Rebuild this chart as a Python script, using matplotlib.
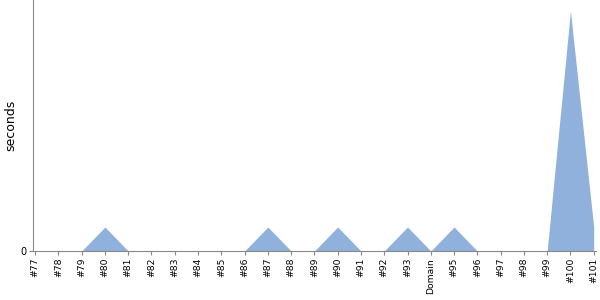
import matplotlib.pyplot as plt

labels = ['#77', '#78', '#79', '#80', '#81', '#82', '#83', '#84', '#85', '#86',
          '#87', '#88', '#89', '#90', '#91', '#92', '#93', 'Domain', '#95', '#96',
          '#97', '#98', '#99', '#100', '#101']
seconds = [0, 0, 0, 1, 0, 0, 0, 0, 0, 0,
           1, 0, 0, 1, 0, 0, 1, 0, 1, 0,
           0, 0, 0, 10, 1]

fig = plt.figure(figsize=(6, 3), dpi=100)
ax = fig.add_axes([0.055, 0.1633, 0.938, 0.8367])

x = list(range(len(labels)))
ax.fill_between(x, seconds, 0, color='#8fb1db', linewidth=0)

ax.set_xlim(-0.09, 24.09)
ax.set_ylim(0, 10.46)
ax.set_xticks(x)
ax.set_xticklabels(labels, rotation=90, fontsize=6.7)
ax.set_yticks([0])
ax.set_yticklabels(['0'], fontsize=7)
ax.set_ylabel('seconds', fontsize=9)
ax.yaxis.set_label_coords(-0.028, 0.5)

for s in ['top', 'right']:
    ax.spines[s].set_visible(False)
for s in ['left', 'bottom']:
    ax.spines[s].set_color('#888888')
ax.tick_params(colors='#888888', labelcolor='black', length=3, width=0.8, pad=2)

fig.savefig('out.png')
